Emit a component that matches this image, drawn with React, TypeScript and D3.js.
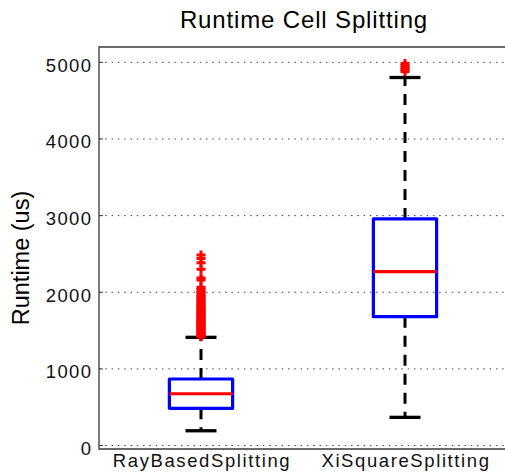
import React from "react";
import * as d3 from "d3";

// box statistics (us)
const categories = ["RayBasedSplitting", "XiSquareSplitting"];
const lowerWhisker = [193, 368];
const q1 = [486, 1681];
const median = [676, 2269];
const q3 = [868, 2957];
const upperWhisker = [1412, 4802];

// outliers, drawn as red '+'
const rayOutliers = [
  1420, 1432, 1445, 1458, 1470, 1484, 1497, 1510, 1524, 1538, 1550, 1565,
  1578, 1592, 1605, 1620, 1634, 1648, 1662, 1676, 1690, 1705, 1720, 1736,
  1750, 1766, 1782, 1798, 1815, 1832, 1850, 1868, 1886, 1905, 1925, 1946,
  1968, 1990, 2012, 2040, 2065, 2160, 2185, 2300, 2386, 2440, 2487,
];
const xiOutliers = [4880, 4905, 4930, 4960, 4985];
const outliers = [rayOutliers, xiOutliers];

const yTicks = [0, 1000, 2000, 3000, 4000, 5000];

const W = 505, H = 475;
const font = "'Liberation Sans', Arial, Helvetica, sans-serif";

export default function App() {
  const x = d3.scaleLinear().domain([0.5, 2.5]).range([99, 507]);
  const y = d3.scaleLinear().domain([-45, 5200]).range([449, 47]);
  const boxHalf = 0.155;
  const capHalf = 0.076;
  const [x0, x1] = x.range();
  const [yb, yt] = y.range();

  return (
    <svg
      width={W}
      height={H}
      style={{ position: "absolute", left: 0, top: 0, background: "#fff" }}
      fontFamily={font}
    >
      {/* grid */}
      {yTicks.map((t) => (
        <line
          key={"g" + t}
          x1={x0}
          x2={x1}
          y1={y(t)}
          y2={y(t)}
          stroke="#444"
          strokeWidth={1}
          strokeDasharray="1.5,4.8"
        />
      ))}

      {/* frame */}
      <path
        d={`M${x1},${yt}H${x0}V${yb}H${x1}`}
        fill="none"
        stroke="#3a3a3a"
        strokeWidth={1.3}
      />
      {yTicks.map((t) => (
        <line key={"t" + t} x1={x0} x2={x0 + 4} y1={y(t)} y2={y(t)} stroke="#3a3a3a" strokeWidth={1} />
      ))}

      {/* y tick labels */}
      {yTicks.map((t) => (
        <text
          key={"l" + t}
          x={92.5}
          y={y(t) + 9.5}
          textAnchor="end"
          fontSize={18.5}
          letterSpacing={1.4}
          fill="#111"
        >
          {t}
        </text>
      ))}

      {/* boxes */}
      {categories.map((c, i) => {
        const cx = x(i + 1);
        const bl = x(i + 1 - boxHalf), br = x(i + 1 + boxHalf);
        const cl = x(i + 1 - capHalf), cr = x(i + 1 + capHalf);
        return (
          <g key={c}>
            <line x1={cx} x2={cx} y1={y(q3[i])} y2={y(upperWhisker[i])} stroke="#000" strokeWidth={3} strokeDasharray="11,8" />
            <line x1={cx} x2={cx} y1={y(q1[i])} y2={y(lowerWhisker[i])} stroke="#000" strokeWidth={3} strokeDasharray="11,8" />
            <line x1={cl} x2={cr} y1={y(upperWhisker[i])} y2={y(upperWhisker[i])} stroke="#000" strokeWidth={3.3} />
            <line x1={cl} x2={cr} y1={y(lowerWhisker[i])} y2={y(lowerWhisker[i])} stroke="#000" strokeWidth={3.3} />
            <rect
              x={bl}
              y={y(q3[i])}
              width={br - bl}
              height={y(q1[i]) - y(q3[i])}
              fill="none"
              stroke="#0000ff"
              strokeWidth={3.2}
              strokeLinejoin="round"
            />
            <line x1={bl} x2={br} y1={y(median[i])} y2={y(median[i])} stroke="#ff0000" strokeWidth={3.2} />
            {outliers[i].map((v, k) => (
              <path
                key={k}
                d={`M${cx - 4.5},${y(v)}h9M${cx},${y(v) - 4.5}v9`}
                stroke="#ff0000"
                strokeWidth={3}
                fill="none"
              />
            ))}
            <text x={cx + 1} y={467} textAnchor="middle" fontSize={18.5} letterSpacing={1.6} fill="#111">
              {c}
            </text>
          </g>
        );
      })}

      {/* title */}
      <text x={304} y={28} textAnchor="middle" fontSize={24} letterSpacing={0.85} fill="#000">
        Runtime Cell Splitting
      </text>

      {/* y label */}
      <text
        transform="translate(29,258) rotate(-90)"
        textAnchor="middle"
        fontSize={23.5}
        fill="#000"
      >
        Runtime (us)
      </text>
    </svg>
  );
}
